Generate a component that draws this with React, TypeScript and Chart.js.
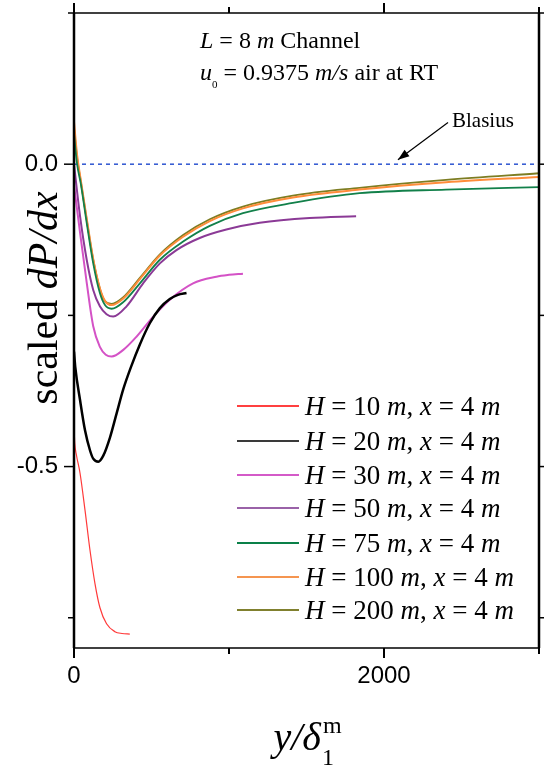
import React, { useEffect, useRef } from 'react';
import { Chart, registerables } from 'chart.js';
Chart.register(...registerables);

// ---------- data ----------
const seriesLabels = [
  'H = 10 m, x = 4 m',
  'H = 20 m, x = 4 m',
  'H = 30 m, x = 4 m',
  'H = 50 m, x = 4 m',
  'H = 75 m, x = 4 m',
  'H = 100 m, x = 4 m',
  'H = 200 m, x = 4 m',
];
const seriesColors = ['#ff3a3a', '#000000', '#d452c6', '#8b3a96', '#12804a', '#ff8c3a', '#7d7d22'];
const legendColors = ['#ff4040', '#3a3a3a', '#d45ac8', '#9a62a8', '#0a8048', '#f59550', '#80802e'];
const seriesWidths = [1.2, 2.5, 2, 2, 1.8, 2, 1.8];

const xH10 = [0, 5, 15, 39, 71, 103, 135, 167, 210, 264, 310, 360];
const yH10 = [-0.434, -0.462, -0.48, -0.511, -0.572, -0.638, -0.693, -0.733, -0.76, -0.773, -0.776, -0.777];

const xH20 = [0, 8, 39, 71, 103, 124, 157, 189, 232, 275, 318, 371, 425, 489, 554, 618, 670, 726];
const yH20 = [-0.31, -0.335, -0.39, -0.44, -0.473, -0.487, -0.492, -0.482, -0.452, -0.412, -0.372, -0.333, -0.298, -0.263, -0.238, -0.223, -0.216, -0.213];

const xH30 = [0, 39, 82, 124, 167, 205, 243, 318, 404, 511, 618, 768, 919, 1000, 1090];
const yH30 = [-0.035, -0.113, -0.196, -0.268, -0.302, -0.315, -0.318, -0.307, -0.285, -0.252, -0.224, -0.197, -0.186, -0.183, -0.181];

const xH50 = [0, 39, 82, 124, 167, 210, 253, 339, 446, 554, 661, 811, 983, 1198, 1520, 1820];
const yH50 = [0.0, -0.086, -0.158, -0.208, -0.235, -0.248, -0.252, -0.235, -0.197, -0.164, -0.142, -0.122, -0.108, -0.097, -0.089, -0.086];

const xLong = [0, 20, 43, 82, 124, 167, 200, 243, 318, 425, 554, 704, 876, 1090, 1412, 1842, 2400, 3000];
const yH75 = [0.05, 0.0, -0.031, -0.097, -0.164, -0.213, -0.233, -0.239, -0.228, -0.197, -0.158, -0.128, -0.102, -0.081, -0.064, -0.048, -0.042, -0.038];
const yH100 = [0.07, 0.015, -0.025, -0.09, -0.157, -0.205, -0.226, -0.233, -0.222, -0.19, -0.151, -0.12, -0.094, -0.073, -0.055, -0.042, -0.03, -0.021];
const yH200 = [0.06, 0.01, -0.027, -0.092, -0.158, -0.206, -0.227, -0.231, -0.22, -0.188, -0.149, -0.117, -0.091, -0.07, -0.052, -0.039, -0.026, -0.015];

const seriesX = [xH10, xH20, xH30, xH50, xLong, xLong, xLong];
const seriesY = [yH10, yH20, yH30, yH50, yH75, yH100, yH200];

const blasiusX = [0, 3000];
const blasiusY = [0, 0];

// labelled ticks (axis)
const xTickValues = [0, 1000, 2000];
const xTickLabels = ['0', '', '2000'];
const yTickValues = [-0.75, -0.5, -0.25, 0];
const yTickLabels = ['', '-0.5', '', '0.0'];
// tick marks on the frame
const xMarkValues = [0, 1000, 2000, 3000];
const xMarkMajor = [true, false, true, false];
const yMarkValues = [-0.75, -0.5, -0.25, 0, 0.25];
const yMarkMajor = [false, true, false, true, false];

const SERIF = '"Liberation Serif", "Times New Roman", serif';
const SANS = '"Liberation Sans", Arial, sans-serif';

type Seg = { t: string; i?: boolean; size?: number; dy?: number };

function richWidth(ctx: CanvasRenderingContext2D, segs: Seg[], size: number) {
  let w = 0;
  for (const s of segs) {
    ctx.font = `${s.i ? 'italic ' : ''}${s.size || size}px ${SERIF}`;
    w += ctx.measureText(s.t).width;
  }
  return w;
}
function drawRich(ctx: CanvasRenderingContext2D, segs: Seg[], x: number, y: number, size: number) {
  let cx = x;
  for (const s of segs) {
    ctx.font = `${s.i ? 'italic ' : ''}${s.size || size}px ${SERIF}`;
    ctx.fillText(s.t, cx, y + (s.dy || 0));
    cx += ctx.measureText(s.t).width;
  }
  return cx;
}
function labelSegs(label: string): Seg[] {
  return label.split(/(\b[Hmx]\b)/).filter((p) => p.length).map((p) => ({ t: p, i: /^[Hmx]$/.test(p) }));
}

const decorPlugin = {
  id: 'decor',
  afterDatasetsDraw(chart: any) {
    const { ctx, chartArea: a, scales } = chart;
    const xs = scales.x, ys = scales.y;
    ctx.save();
    ctx.strokeStyle = '#000';
    const line = (x1: number, y1: number, x2: number, y2: number) => {
      ctx.beginPath(); ctx.moveTo(x1, y1); ctx.lineTo(x2, y2); ctx.stroke();
    };
    ctx.lineWidth = 1.5;
    line(a.left - 1, a.top, a.right + 1, a.top);
    line(a.left - 1, a.bottom, a.right + 1, a.bottom);
    ctx.lineWidth = 2.5;
    line(a.left, a.top, a.left, a.bottom);
    line(a.right, a.top, a.right, a.bottom);
    xMarkValues.forEach((v, i) => {
      const px = xs.getPixelForValue(v);
      const len = xMarkMajor[i] ? 10 : 6;
      ctx.lineWidth = 2;
      line(px, a.bottom, px, a.bottom + len);
      line(px, a.top, px, a.top - len);
    });
    yMarkValues.forEach((v, i) => {
      const py = ys.getPixelForValue(v);
      const len = yMarkMajor[i] ? 10 : 6;
      ctx.lineWidth = 1.5;
      line(a.left - len, py, a.left, py);
      line(a.right, py, a.right + len, py);
    });
    ctx.restore();
  },
  afterDraw(chart: any) {
    const { ctx, chartArea: a, scales } = chart;
    const xs = scales.x, ys = scales.y;
    ctx.save();
    ctx.fillStyle = '#000';
    ctx.textBaseline = 'alphabetic';
    ctx.textAlign = 'left';

    // annotation text
    drawRich(ctx, [{ t: 'L', i: true }, { t: ' = 8 ' }, { t: 'm', i: true }, { t: ' Channel' }], 200, 48, 24);
    drawRich(ctx, [{ t: 'u', i: true }, { t: '0', size: 11, dy: 8 }, { t: ' = 0.9375 ' }, { t: 'm/s', i: true }, { t: ' air at RT' }], 200, 80, 24);
    drawRich(ctx, [{ t: 'Blasius' }], 452, 127, 21);

    // arrow (in data coordinates)
    const ax1 = xs.getPixelForValue(2413), ay1 = ys.getPixelForValue(0.069);
    const ax2 = xs.getPixelForValue(2090), ay2 = ys.getPixelForValue(0.0075);
    ctx.strokeStyle = '#000';
    ctx.lineWidth = 1.2;
    ctx.beginPath(); ctx.moveTo(ax1, ay1); ctx.lineTo(ax2, ay2); ctx.stroke();
    const ang = Math.atan2(ay2 - ay1, ax2 - ax1);
    const hl = 12, hw = 0.35;
    ctx.beginPath();
    ctx.moveTo(ax2, ay2);
    ctx.lineTo(ax2 - hl * Math.cos(ang - hw), ay2 - hl * Math.sin(ang - hw));
    ctx.lineTo(ax2 - hl * Math.cos(ang + hw), ay2 - hl * Math.sin(ang + hw));
    ctx.closePath(); ctx.fill();

    // legend
    const rowY = [406, 441, 475, 508, 543, 577, 610];
    seriesLabels.forEach((lab, i) => {
      ctx.strokeStyle = legendColors[i];
      ctx.lineWidth = 2;
      ctx.beginPath(); ctx.moveTo(237, rowY[i]); ctx.lineTo(299, rowY[i]); ctx.stroke();
      ctx.fillStyle = '#000';
      drawRich(ctx, labelSegs(lab), 305, rowY[i] + 9, 27);
    });

    // y title
    const ySegs: Seg[] = [{ t: 'scaled ' }, { t: 'dP/dx', i: true }];
    ctx.save();
    ctx.translate(57, 298);
    ctx.rotate(-Math.PI / 2);
    const w = richWidth(ctx, ySegs, 42);
    drawRich(ctx, ySegs, -w / 2, 0, 42);
    ctx.restore();

    // x title
    const cx = (a.left + a.right) / 2;
    const main: Seg[] = [{ t: 'y/', i: true }, { t: 'δ', i: true }];
    const mw = richWidth(ctx, main, 40);
    ctx.font = `24px ${SERIF}`;
    const sw = ctx.measureText('m').width;
    const sx = cx - (mw + sw) / 2;
    const ex = drawRich(ctx, main, sx, 750, 40);
    ctx.font = `24px ${SERIF}`;
    ctx.fillText('1', ex + 1, 765);
    ctx.fillText('m', ex + 2, 733);
    ctx.restore();
  },
};

export default function App() {
  const ref = useRef<HTMLCanvasElement>(null);
  useEffect(() => {
    document.body.style.margin = '0';
    const datasets: any[] = seriesLabels.map((lab, i) => ({
      label: lab,
      data: seriesX[i].map((x, j) => ({ x, y: seriesY[i][j] })),
      borderColor: seriesColors[i],
      borderWidth: seriesWidths[i],
      pointRadius: 0,
      cubicInterpolationMode: 'monotone',
      fill: false,
    }));
    datasets.push({
      label: 'Blasius',
      data: blasiusX.map((x, j) => ({ x, y: blasiusY[j] })),
      borderColor: '#2e55d0',
      borderWidth: 1.5,
      borderDash: [4, 4],
      pointRadius: 0,
      fill: false,
    });
    const chart = new Chart(ref.current!, {
      type: 'line',
      data: { datasets },
      options: {
        animation: false,
        responsive: false,
        maintainAspectRatio: false,
        layout: { padding: { top: 13, right: 5, left: 0, bottom: 0 } },
        plugins: { legend: { display: false }, tooltip: { enabled: false }, title: { display: false } },
        scales: {
          x: {
            type: 'linear', min: 0, max: 3000,
            afterBuildTicks: (s: any) => { s.ticks = xTickValues.map((v) => ({ value: v })); },
            afterFit: (s: any) => { s.height = 118; s.paddingLeft = 0; s.paddingRight = 0; },
            grid: { display: false, drawTicks: false },
            border: { display: false },
            ticks: {
              autoSkip: false, maxRotation: 0, padding: 14, color: '#000',
              font: { family: SANS, size: 24 },
              callback: (v: any) => xTickLabels[xTickValues.indexOf(Number(v))] ?? '',
            },
          },
          y: {
            type: 'linear', min: -0.8, max: 0.25,
            afterBuildTicks: (s: any) => { s.ticks = yTickValues.map((v) => ({ value: v })); },
            afterFit: (s: any) => { s.width = 74; s.paddingTop = 0; s.paddingBottom = 0; },
            grid: { display: false, drawTicks: false },
            border: { display: false },
            ticks: {
              autoSkip: false, padding: 16, color: '#000',
              font: { family: SANS, size: 24 },
              callback: (v: any) => {
                const k = yTickValues.findIndex((t) => Math.abs(t - Number(v)) < 1e-9);
                return k >= 0 ? yTickLabels[k] : '';
              },
            },
          },
        },
      },
      plugins: [decorPlugin],
    });
    return () => chart.destroy();
  }, []);
  return (
    <div style={{ width: 544, height: 766 }}>
      <canvas ref={ref} width={544} height={766} style={{ display: 'block' }} />
    </div>
  );
}
